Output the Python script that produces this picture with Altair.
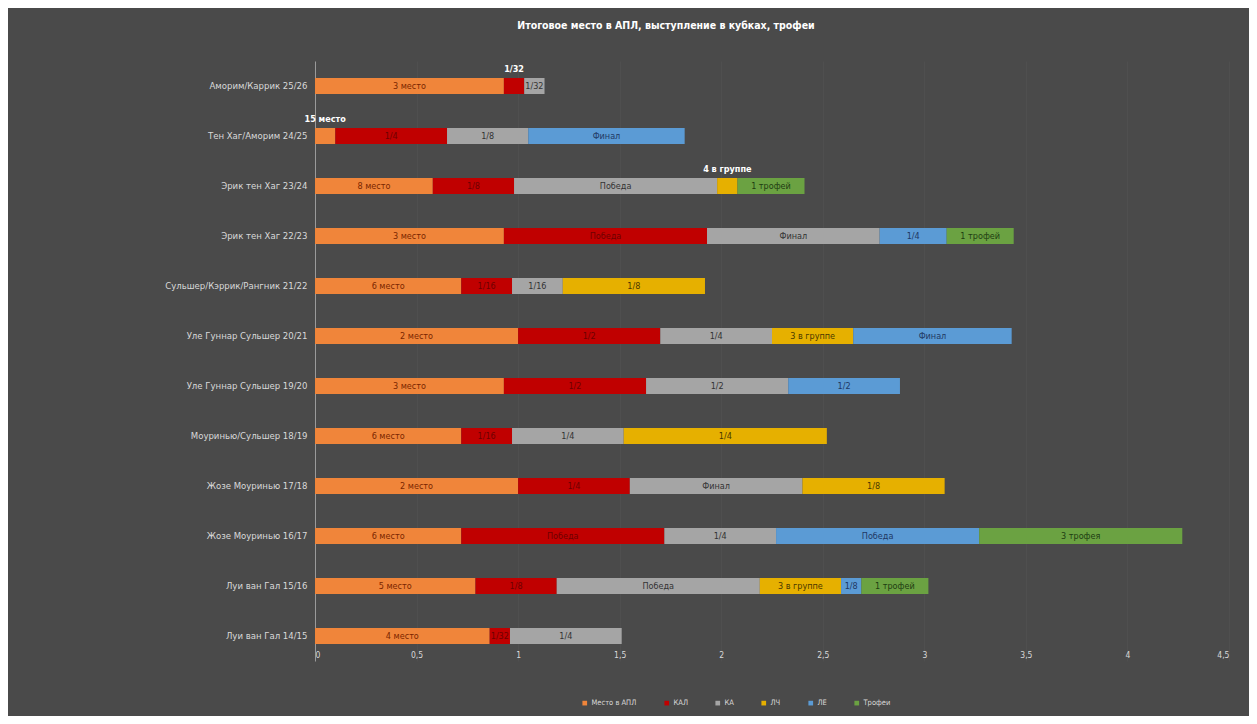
import altair as alt
import pandas as pd

rows = ["Аморим/Каррик 25/26", "Тен Хаг/Аморим 24/25", "Эрик тен Хаг 23/24",
        "Эрик тен Хаг 22/23", "Сульшер/Кэррик/Рангник 21/22", "Уле Гуннар Сульшер 20/21",
        "Уле Гуннар Сульшер 19/20", "Моуринью/Сульшер 18/19", "Жозе Моуринью 17/18",
        "Жозе Моуринью 16/17", "Луи ван Гал 15/16", "Луи ван Гал 14/15"]

series = ["Место в АПЛ", "КАЛ", "КА", "ЛЧ", "ЛЕ", "Трофеи"]

apl = [0.93, 0.10, 0.58, 0.93, 0.72, 1.00, 0.93, 0.72, 1.00, 0.72, 0.79, 0.86]
apl_lbl = ["3 место", "15 место", "8 место", "3 место", "6 место", "2 место",
           "3 место", "6 место", "2 место", "6 место", "5 место", "4 место"]
kal = [0.10, 0.55, 0.40, 1.00, 0.25, 0.70, 0.70, 0.25, 0.55, 1.00, 0.40, 0.10]
kal_lbl = ["1/32", "1/4", "1/8", "Победа", "1/16", "1/2", "1/2", "1/16", "1/4",
           "Победа", "1/8", "1/32"]
ka = [0.10, 0.40, 1.00, 0.85, 0.25, 0.55, 0.70, 0.55, 0.85, 0.55, 1.00, 0.55]
ka_lbl = ["1/32", "1/8", "Победа", "Финал", "1/16", "1/4", "1/2", "1/4", "Финал",
          "1/4", "Победа", "1/4"]
lch = [None, None, 0.10, None, 0.70, 0.40, None, 1.00, 0.70, None, 0.40, None]
lch_lbl = [None, None, "4 в группе", None, "1/8", "3 в группе", None, "1/4", "1/8",
           None, "3 в группе", None]
le = [None, 0.77, None, 0.33, None, 0.78, 0.55, None, None, 1.00, 0.10, None]
le_lbl = [None, "Финал", None, "1/4", None, "Финал", "1/2", None, None, "Победа",
          "1/8", None]
tro = [None, None, 0.33, 0.33, None, None, None, None, None, 1.00, 0.33, None]
tro_lbl = [None, None, "1 трофей", "1 трофей", None, None, None, None, None,
           "3 трофея", "1 трофей", None]

# labels drawn above the bar instead of inside
outside = [("Аморим/Каррик 25/26", "КАЛ"),
           ("Тен Хаг/Аморим 24/25", "Место в АПЛ"),
           ("Эрик тен Хаг 23/24", "ЛЧ")]

x_ticks = [0, 0.5, 1, 1.5, 2, 2.5, 3, 3.5, 4, 4.5]

bar_colors = ["#F0853A", "#C00000", "#A5A5A5", "#E6B000", "#5B9BD5", "#6BA242"]
text_colors = ["#7A2500", "#6E0000", "#333333", "#4A3800", "#1F3864", "#1E3D12"]

records = []
for si, (vals, lbls) in enumerate([(apl, apl_lbl), (kal, kal_lbl), (ka, ka_lbl),
                                    (lch, lch_lbl), (le, le_lbl), (tro, tro_lbl)]):
    for r, v, l in zip(rows, vals, lbls):
        if v is None:
            continue
        records.append({"row": r, "series": series[si], "order": si, "value": v,
                        "label": l, "outside": (r, series[si]) in outside})
df = pd.DataFrame(records)

FONT = "Liberation Sans Narrow, DejaVu Sans Condensed, sans-serif"

y_axis = alt.Axis(labelColor="#D9D9D9", labelFontSize=9.5, labelFont=FONT,
                  ticks=False, domainColor="#9A9A9A", labelPadding=8)
x_axis = alt.Axis(values=x_ticks,
                  labelExpr="replace(toString(datum.value), '.', ',')",
                  labelColor="#D9D9D9", labelFontSize=8.5, labelFont=FONT,
                  grid=True, gridColor="#525252", gridWidth=0.6,
                  domain=False, ticks=False, labelPadding=3, offset=-14)
x_scale = alt.Scale(domain=[0, 4.5], nice=False)

base = alt.Chart(df)

bars = base.mark_bar(size=16).encode(
    y=alt.Y("row:N", sort=rows, title=None, axis=y_axis),
    x=alt.X("value:Q", stack="zero", title=None, scale=x_scale, axis=x_axis),
    color=alt.Color("series:N", sort=series,
                    scale=alt.Scale(domain=series, range=bar_colors),
                    legend=alt.Legend(title=None, orient="none", direction="horizontal",
                                      legendX=266, legendY=638,
                                      symbolType="square", symbolSize=22,
                                      labelColor="#D9D9D9", labelFontSize=7.5,
                                      labelFont=FONT, columnPadding=26,
                                      symbolStrokeWidth=0, labelOffset=3)),
    order=alt.Order("order:Q"),
)

stacked = base.transform_stack(
    stack="value", groupby=["row"], sort=[alt.SortField("order")], as_=["x0", "x1"]
).transform_calculate(mid="(datum.x0 + datum.x1) / 2")

inner = stacked.transform_filter("!datum.outside").mark_text(
    fontSize=9, font=FONT
).encode(
    x=alt.X("mid:Q", title=None, scale=x_scale, axis=x_axis),
    y=alt.Y("row:N", sort=rows, title=None, axis=y_axis),
    text="label:N",
    color=alt.Color("series:N", scale=alt.Scale(domain=series, range=text_colors),
                    legend=None),
)

outer = stacked.transform_filter("datum.outside").mark_text(
    fontSize=9, font=FONT, fontWeight="bold", dy=-17, color="#FFFFFF"
).encode(
    x=alt.X("mid:Q", title=None, scale=x_scale, axis=x_axis),
    y=alt.Y("row:N", sort=rows, title=None, axis=y_axis),
    text="label:N",
)

chart = alt.layer(bars, inner, outer).resolve_scale(color="independent").properties(
    width=914, height=600,
    background="#4A4A4A",
    autosize=alt.AutoSizeParams(type="none"),
    padding={"left": 307, "top": 53, "right": 20, "bottom": 55},
    title=alt.TitleParams("Итоговое место в АПЛ, выступление в кубках, трофеи",
                          color="#FFFFFF", fontSize=10.5, fontWeight="bold", font=FONT,
                          anchor="middle", frame="group", dx=-106, offset=30),
).configure_view(stroke=None)

chart.save("out.html", embed_options={"renderer": "svg", "actions": False})
